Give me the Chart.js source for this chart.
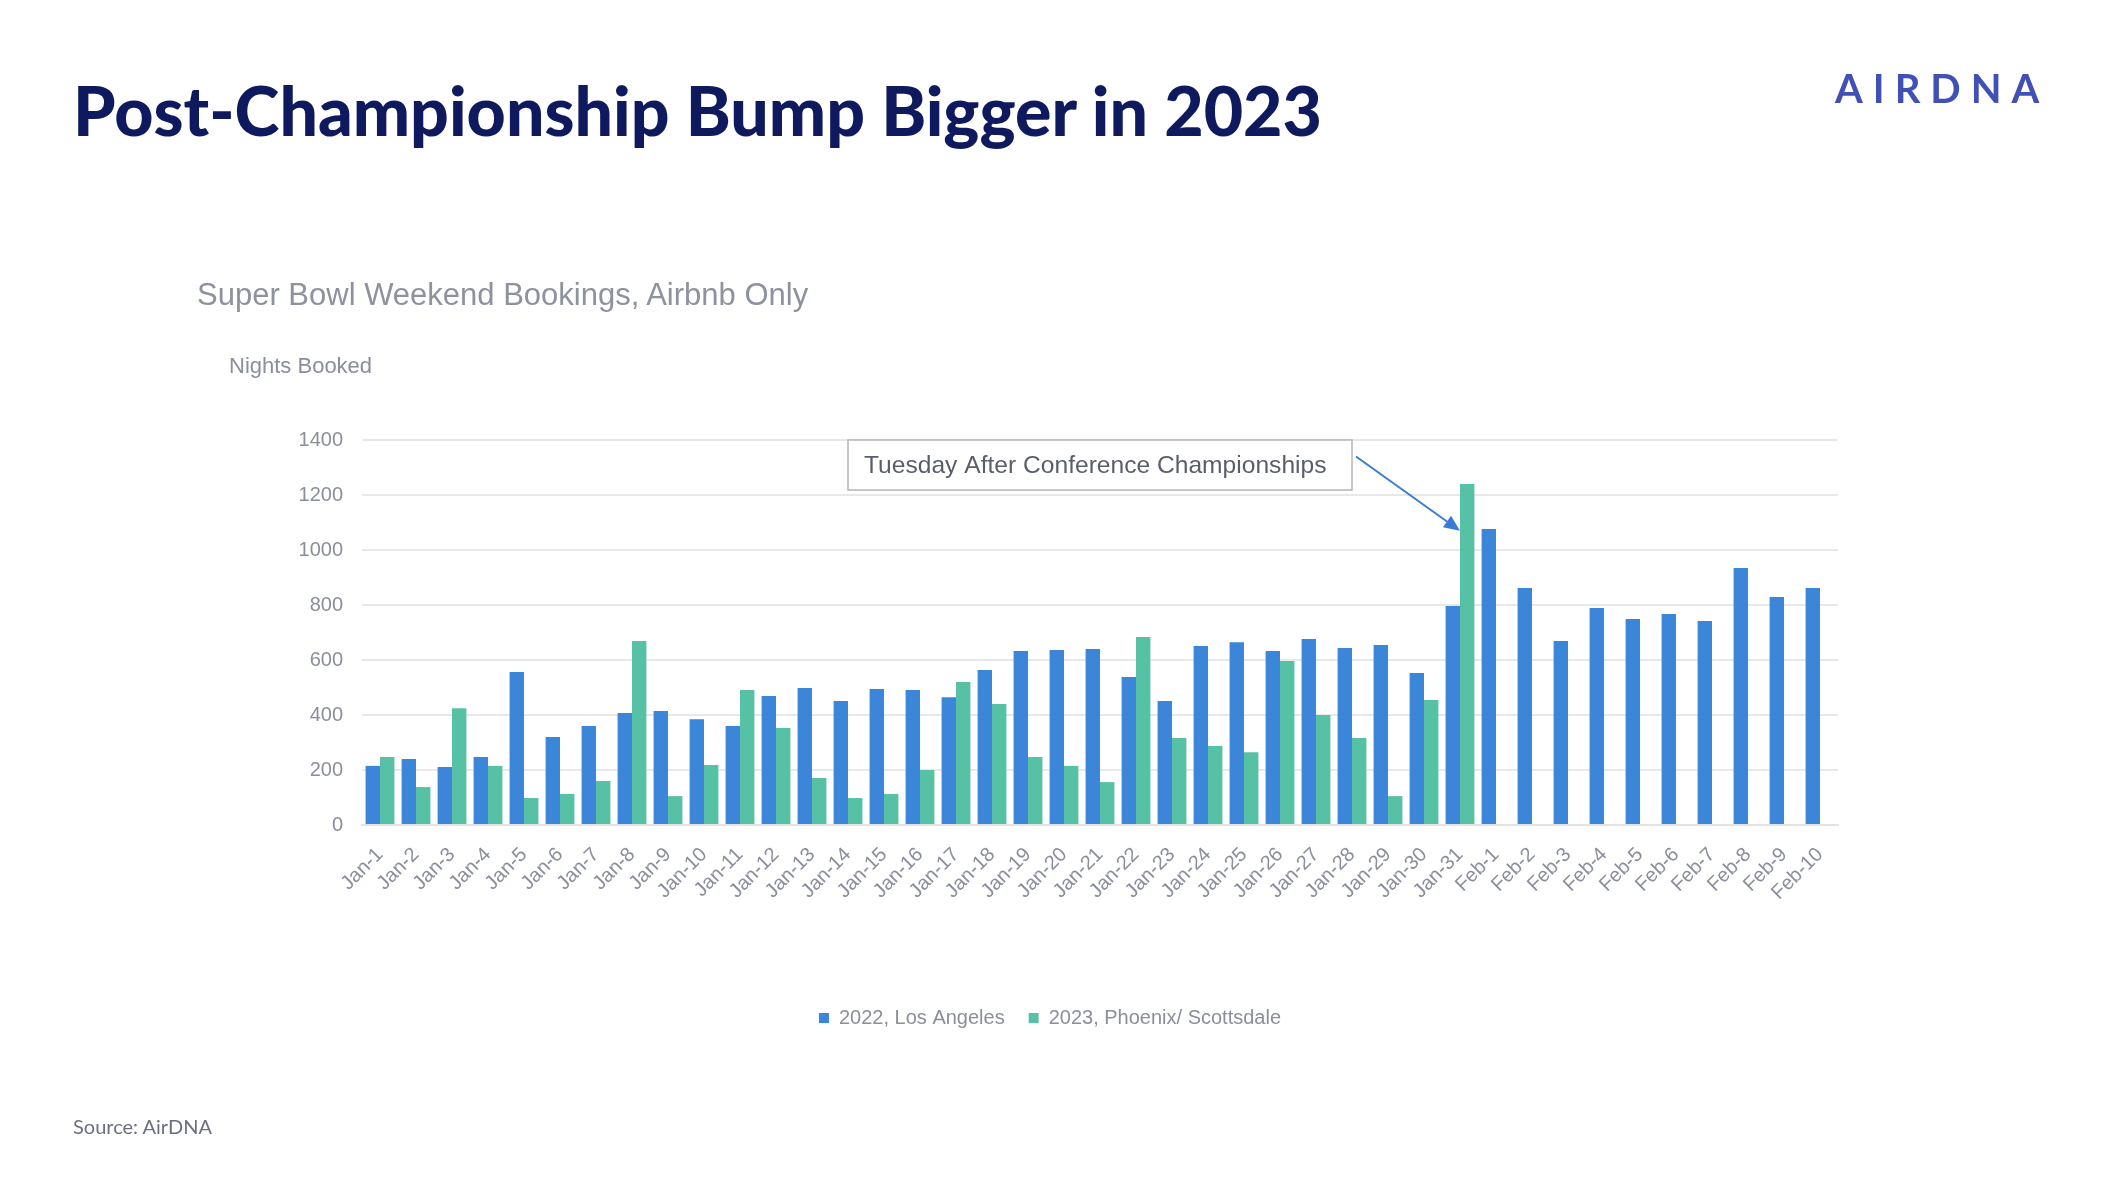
<!DOCTYPE html>
<html lang="en">
<head>
  <meta charset="UTF-8" />
  <title>Post-Championship Bump Bigger in 2023</title>
  <script src="https://cdn.jsdelivr.net/npm/chart.js"></script>
  <style>
    body {
      margin: 0;
      background: #ffffff;
      overflow: hidden;
    }

    .page {
      position: relative;
      width: 2112px;
      height: 1182px;
    }

    .page canvas {
      position: absolute;
      left: 0;
      top: 0;
    }

    .title {
      position: absolute;
      left: 73px;
      top: 76px;
      margin: 0;
      font: 900 68px 'Lato', sans-serif;
      line-height: 1;
      color: #0f1a5e;
      white-space: nowrap;
    }

    .logo {
      position: absolute;
      left: 1835px;
      top: 68px;
      font: 700 40px 'Lato', sans-serif;
      letter-spacing: 10px;
      line-height: 1;
      color: #4050b5;
    }

    .subtitle {
      position: absolute;
      left: 197px;
      top: 279px;
      font: 31px 'Liberation Sans', Arial, sans-serif;
      line-height: 1;
      color: #8e919e;
      white-space: nowrap;
    }

    .axis-title {
      position: absolute;
      left: 229px;
      top: 355px;
      font: 22px 'Liberation Sans', Arial, sans-serif;
      line-height: 1;
      color: #8b8e9b;
    }

    .source {
      position: absolute;
      left: 73px;
      top: 1116px;
      font: 20px 'Lato', sans-serif;
      line-height: 1;
      color: #6c6f80;
    }
  </style>
</head>
<body>

<div class="page">
  <canvas id="bookingsChart" width="2112" height="1182"></canvas>
  <h1 class="title">Post-Championship Bump Bigger in 2023</h1>
  <div class="logo">AIRDNA</div>
  <div class="subtitle">Super Bowl Weekend Bookings, Airbnb Only</div>
  <div class="axis-title">Nights Booked</div>
  <div class="source">Source: AirDNA</div>
</div>

<script>
  // Categories (nights around the game)
  const days = [
    'Jan-1', 'Jan-2', 'Jan-3', 'Jan-4', 'Jan-5', 'Jan-6', 'Jan-7', 'Jan-8', 'Jan-9', 'Jan-10',
    'Jan-11', 'Jan-12', 'Jan-13', 'Jan-14', 'Jan-15', 'Jan-16', 'Jan-17', 'Jan-18', 'Jan-19', 'Jan-20',
    'Jan-21', 'Jan-22', 'Jan-23', 'Jan-24', 'Jan-25', 'Jan-26', 'Jan-27', 'Jan-28', 'Jan-29', 'Jan-30',
    'Jan-31', 'Feb-1', 'Feb-2', 'Feb-3', 'Feb-4', 'Feb-5', 'Feb-6', 'Feb-7', 'Feb-8', 'Feb-9', 'Feb-10'
  ];

  // 2022, Los Angeles
  const losAngeles2022 = [
    215, 240, 211, 247, 556, 320, 360, 407, 415, 385,
    360, 469, 498, 451, 495, 491, 465, 564, 633, 636,
    640, 538, 451, 651, 665, 633, 676, 644, 655, 553,
    796, 1076, 862, 669, 789, 749, 767, 742, 935, 829, 862
  ];

  // 2023, Phoenix/ Scottsdale (no data after Jan-31)
  const phoenix2023 = [
    247, 138, 425, 215, 98, 113, 160, 669, 105, 218,
    491, 353, 171, 98, 113, 200, 520, 440, 247, 215,
    156, 684, 316, 287, 265, 596, 400, 316, 105, 455,
    1240, null, null, null, null, null, null, null, null, null, null
  ];

  const yMax = 1400;
  const yStep = 200;

  // Callout: box spans Jan-14..Jan-28, arrow points at Jan-31
  const noteText = 'Tuesday After Conference Championships';
  const noteSpan = [13, 27];
  const noteRange = [1400, 1218];
  const arrowFrom = 1340;
  const arrowTo = [30, 1070];

  const blue = '#3b86d9';
  const green = '#56c1a5';
  const labelGray = '#8b8e9b';

  Chart.defaults.font.family = "'Liberation Sans', Arial, sans-serif";
  Chart.defaults.color = labelGray;

  const calloutPlugin = {
    id: 'callout',
    afterDatasetsDraw(chart) {
      const { ctx, scales: { x, y } } = chart;
      const left = x.getPixelForValue(noteSpan[0]);
      const right = x.getPixelForValue(noteSpan[1]);
      const top = y.getPixelForValue(noteRange[0]);
      const bottom = y.getPixelForValue(noteRange[1]);

      ctx.save();
      ctx.fillStyle = '#ffffff';
      ctx.fillRect(left, top, right - left, bottom - top);
      ctx.strokeStyle = '#b4b4b4';
      ctx.lineWidth = 1.5;
      ctx.strokeRect(left, top, right - left, bottom - top);

      ctx.fillStyle = '#5a5e6b';
      ctx.font = "24.6px 'Liberation Sans', Arial, sans-serif";
      ctx.textBaseline = 'middle';
      ctx.fillText(noteText, left + 16, (top + bottom) / 2 + 1);

      // arrow
      const sx = right + 4;
      const sy = y.getPixelForValue(arrowFrom);
      const tx = x.getPixelForValue(arrowTo[0]);
      const ty = y.getPixelForValue(arrowTo[1]);
      const ang = Math.atan2(ty - sy, tx - sx);
      const headLen = 16;
      const headW = 7;

      ctx.strokeStyle = '#3a7bd5';
      ctx.fillStyle = '#3a7bd5';
      ctx.lineWidth = 2;
      ctx.beginPath();
      ctx.moveTo(sx, sy);
      ctx.lineTo(tx - headLen * Math.cos(ang), ty - headLen * Math.sin(ang));
      ctx.stroke();

      ctx.beginPath();
      ctx.moveTo(tx, ty);
      ctx.lineTo(tx - headLen * Math.cos(ang) + headW * Math.sin(ang), ty - headLen * Math.sin(ang) - headW * Math.cos(ang));
      ctx.lineTo(tx - headLen * Math.cos(ang) - headW * Math.sin(ang), ty - headLen * Math.sin(ang) + headW * Math.cos(ang));
      ctx.closePath();
      ctx.fill();
      ctx.restore();
    }
  };

  new Chart(document.getElementById('bookingsChart').getContext('2d'), {
    type: 'bar',
    data: {
      labels: days,
      datasets: [
        {
          label: '2022, Los Angeles',
          data: losAngeles2022,
          backgroundColor: blue,
          categoryPercentage: 0.8,
          barPercentage: 1.0
        },
        {
          label: '2023, Phoenix/ Scottsdale',
          data: phoenix2023,
          backgroundColor: green,
          categoryPercentage: 0.8,
          barPercentage: 1.0
        }
      ]
    },
    options: {
      responsive: false,
      animation: false,
      devicePixelRatio: 1,
      layout: {
        padding: { left: 262, right: 274, top: 440, bottom: 144 }
      },
      plugins: {
        legend: {
          position: 'bottom',
          labels: {
            boxWidth: 10,
            boxHeight: 10,
            padding: 24,
            color: labelGray,
            font: { size: 20 }
          }
        },
        tooltip: { enabled: false }
      },
      scales: {
        x: {
          grid: { display: false, drawTicks: false },
          border: { display: true, color: '#e3e3e3', width: 2 },
          ticks: {
            color: labelGray,
            font: { size: 20 },
            minRotation: 45,
            maxRotation: 45,
            autoSkip: false,
            padding: 18
          },
          afterFit(scale) { scale.height = 159; }
        },
        y: {
          min: 0,
          max: yMax,
          grid: { color: '#e8e8e8', lineWidth: 2, drawTicks: false },
          border: { display: false },
          ticks: {
            stepSize: yStep,
            color: labelGray,
            font: { size: 20 },
            padding: 19,
            callback: (v) => String(v)
          },
          afterFit(scale) { scale.width = 100; }
        }
      }
    },
    plugins: [calloutPlugin]
  });
</script>

</body>
</html>
